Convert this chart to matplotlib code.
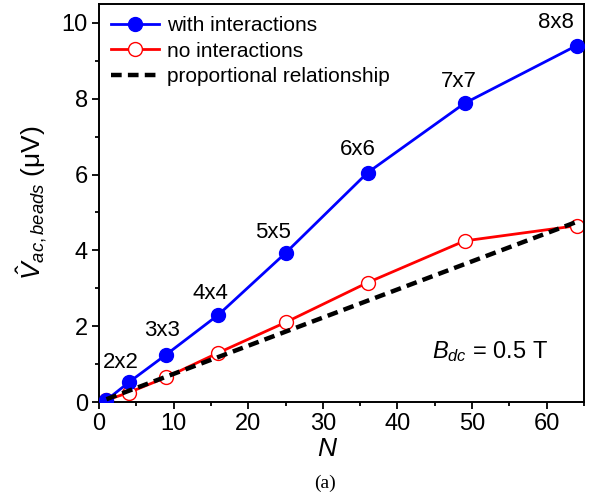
import matplotlib.pyplot as plt
from matplotlib.ticker import MultipleLocator

plt.rcParams['font.family'] = ['Liberation Sans', 'DejaVu Sans']
plt.rcParams['mathtext.fontset'] = 'custom'
plt.rcParams['mathtext.rm'] = 'Liberation Sans'
plt.rcParams['mathtext.it'] = 'Liberation Sans:italic'
plt.rcParams['mathtext.bf'] = 'Liberation Sans:bold'

# data
n_beads = [1, 4, 9, 16, 25, 36, 49, 64]
v_with = [0.05, 0.52, 1.25, 2.30, 3.93, 6.05, 7.88, 9.40]
v_without = [0.05, 0.25, 0.65, 1.30, 2.10, 3.15, 4.25, 4.65]
prop_n = [1, 64]
prop_v = [0.074, 4.75]
array_labels = ['2x2', '3x3', '4x4', '5x5', '6x6', '7x7', '8x8']
# label offsets from each point, in points
label_offsets = [(-6, 7), (-3, 10), (-6, 8), (-9, 7), (-7, 9), (-4, 8), (-15, 9)]

fig = plt.figure(figsize=(6.01, 4.97), dpi=100)
ax = fig.add_axes([0.1647, 0.1911, 0.807, 0.801])

ax.plot(n_beads, v_with, '-', color='#0000ff', lw=2, marker='o', ms=10,
        mfc='#0000ff', mec='#0000ff', label='with interactions', zorder=3)
ax.plot(n_beads, v_without, '-', color='#ff0000', lw=2, marker='o', ms=10,
        mfc='white', mec='#ff0000', label='no interactions', zorder=2)
ax.plot(prop_n, prop_v, '--', color='black', lw=3.2, dashes=(2.4, 1.4),
        label='proportional relationship', zorder=4)

for lbl, x, y, off in zip(array_labels, n_beads[1:], v_with[1:], label_offsets):
    ax.annotate(lbl, (x, y), xytext=off, textcoords='offset points',
                ha='center', va='bottom', fontsize=16)

ax.text(0.687, 0.095, r'$B_{dc}$ = 0.5 T', transform=ax.transAxes, fontsize=17,
        ha='left', va='bottom')

ax.set_xlim(0, 65)
ax.set_ylim(0, 10.5)
ax.xaxis.set_major_locator(MultipleLocator(10))
ax.xaxis.set_minor_locator(MultipleLocator(5))
ax.yaxis.set_major_locator(MultipleLocator(2))
ax.yaxis.set_minor_locator(MultipleLocator(1))
ax.tick_params(which='major', direction='out', length=5, width=1.3, labelsize=17,
               top=False, right=False, pad=3)
ax.tick_params(which='minor', direction='out', length=3, width=1.3,
               top=False, right=False)
for s in ax.spines.values():
    s.set_linewidth(1.4)

ax.set_xlabel('N', fontsize=19, style='italic')
ax.xaxis.set_label_coords(0.47, -0.088)
ax.set_ylabel(r'$\hat{V}_{ac,beads}$ ($\mathrm{\mu}$V)', fontsize=19)
ax.yaxis.set_label_coords(-0.10, 0.5)

ax.legend(loc='upper left', frameon=False, fontsize=15, handlelength=2.3,
          handletextpad=0.35, labelspacing=0.3, borderaxespad=0.15,
          borderpad=0.45)

fig.text(0.54, 0.028, '(a)', ha='center', va='center', fontsize=14,
         family='Liberation Serif')

fig.savefig('out.png', dpi=100)
